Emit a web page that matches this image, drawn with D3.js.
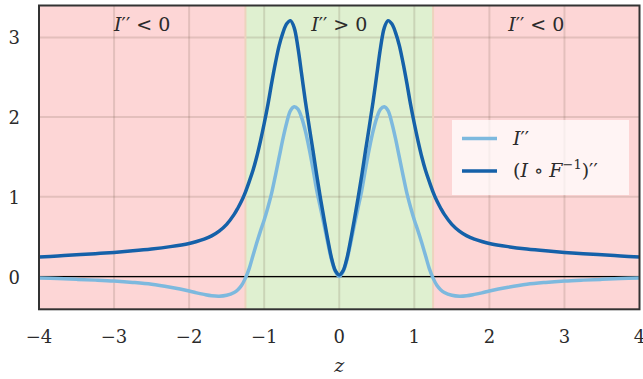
<!DOCTYPE html>
<html>
<head>
<meta charset="utf-8">
<script src="https://cdn.jsdelivr.net/npm/d3@7"></script>
<style>
  body { margin: 0; background: #fff; }
</style>
</head>
<body>
<div id="chart"></div>
<script>
const width = 643, height = 379;
const margin = { top: 5.5, right: 3.5, bottom: 69.7, left: 39 };
const serif = "'DejaVu Serif', 'Liberation Serif', serif";

// sample positions along z
const zValues = [-4, -3.75, -3.5, -3.25, -3, -2.75, -2.5, -2.25, -2, -1.9, -1.8, -1.7, -1.6, -1.5, -1.4, -1.35, -1.3,
  -1.25, -1.2, -1.15, -1.1, -1.05, -1, -0.95, -0.9, -0.85, -0.8, -0.75, -0.7, -0.65, -0.6, -0.55, -0.5,
  -0.45, -0.4, -0.35, -0.3, -0.25, -0.2, -0.15, -0.1, -0.05, 0,
  0.05, 0.1, 0.15, 0.2, 0.25, 0.3, 0.35, 0.4, 0.45, 0.5, 0.55, 0.6, 0.65, 0.7, 0.75, 0.8, 0.85, 0.9, 0.95,
  1, 1.05, 1.1, 1.15, 1.2, 1.25, 1.3, 1.35, 1.4, 1.5, 1.6, 1.7, 1.8, 1.9, 2, 2.25, 2.5, 2.75, 3, 3.25, 3.5, 3.75, 4];

// I''
const iSecond = [-0.017, -0.025, -0.035, -0.045, -0.057, -0.074, -0.097, -0.135, -0.182, -0.205, -0.224, -0.24, -0.246, -0.235, -0.2, -0.165, -0.11,
  -0.02, 0.10, 0.26, 0.42, 0.57, 0.71, 0.87, 1.05, 1.27, 1.50, 1.73, 1.93, 2.08, 2.13, 2.10, 1.99,
  1.82, 1.60, 1.35, 1.08, 0.86, 0.64, 0.41, 0.20, 0.06, 0.0,
  0.06, 0.20, 0.41, 0.64, 0.86, 1.08, 1.35, 1.60, 1.82, 1.99, 2.10, 2.13, 2.08, 1.93, 1.73, 1.50, 1.27, 1.05, 0.87,
  0.71, 0.57, 0.42, 0.26, 0.10, -0.02, -0.11, -0.165, -0.2, -0.235, -0.246, -0.24, -0.224, -0.205, -0.182, -0.135, -0.097, -0.074, -0.057, -0.045, -0.035, -0.025, -0.017];

// (I o F^-1)''
const composedSecond = [0.244, 0.258, 0.272, 0.287, 0.303, 0.322, 0.345, 0.375, 0.415, 0.44, 0.47, 0.51, 0.57, 0.655, 0.78, 0.86, 0.95,
  1.06, 1.19, 1.33, 1.50, 1.70, 1.92, 2.16, 2.43, 2.68, 2.90, 3.06, 3.17, 3.21, 3.12, 2.87, 2.53,
  2.19, 1.88, 1.58, 1.27, 0.98, 0.71, 0.45, 0.22, 0.07, 0.02,
  0.07, 0.22, 0.45, 0.71, 0.98, 1.27, 1.58, 1.88, 2.19, 2.53, 2.87, 3.12, 3.21, 3.17, 3.06, 2.90, 2.68, 2.43, 2.16,
  1.92, 1.70, 1.50, 1.33, 1.19, 1.06, 0.95, 0.86, 0.78, 0.655, 0.57, 0.51, 0.47, 0.44, 0.415, 0.375, 0.345, 0.322, 0.303, 0.287, 0.272, 0.258, 0.244];

// shaded regions: sign of I''
const regions = [
  { from: -4, to: -1.25, sign: "neg" },
  { from: -1.25, to: 1.25, sign: "pos" },
  { from: 1.25, to: 4, sign: "neg" }
];
const regionLabels = ["< 0", "> 0", "< 0"];

const xTicks = [-4, -3, -2, -1, 0, 1, 2, 3, 4];
const yTicks = [0, 1, 2, 3];

const lightBlue = "#7db9de", darkBlue = "#1561a9";

const svg = d3.select("#chart").append("svg")
  .attr("width", width)
  .attr("height", height)
  .attr("font-family", serif)
  .style("font-family", serif);

const innerWidth = width - margin.left - margin.right;
const innerHeight = height - margin.top - margin.bottom;

const x = d3.scaleLinear().domain([-4, 4]).range([0, innerWidth]);
const y = d3.scaleLinear().domain([-0.411, 3.4]).range([innerHeight, 0]);

const g = svg.append("g").attr("transform", `translate(${margin.left},${margin.top})`);

g.append("clipPath").attr("id", "clip")
  .append("rect").attr("width", innerWidth).attr("height", innerHeight);

// backgrounds
g.selectAll("rect.region")
  .data(regions)
  .join("rect")
  .attr("class", "region")
  .attr("x", d => x(d.from))
  .attr("y", 0)
  .attr("width", d => x(d.to) - x(d.from))
  .attr("height", innerHeight)
  .attr("fill", d => d.sign === "neg" ? "#fdd6d6" : "#dff0d0");

// grid
g.selectAll("line.gx")
  .data(xTicks.slice(1, -1))
  .join("line")
  .attr("x1", d => x(d)).attr("x2", d => x(d))
  .attr("y1", 0).attr("y2", innerHeight)
  .attr("stroke", "#6e5a4a").attr("stroke-opacity", 0.18).attr("stroke-width", 2);

g.selectAll("line.gy")
  .data(yTicks)
  .join("line")
  .attr("x1", 0).attr("x2", innerWidth)
  .attr("y1", d => y(d)).attr("y2", d => y(d))
  .attr("stroke", "#6e5a4a").attr("stroke-opacity", 0.18).attr("stroke-width", 2);

// region borders
g.selectAll("line.border")
  .data([-1.25, 1.25])
  .join("line")
  .attr("x1", d => x(d)).attr("x2", d => x(d))
  .attr("y1", 0).attr("y2", innerHeight)
  .attr("stroke", "#edd3bd").attr("stroke-width", 2);

// zero line
g.append("line")
  .attr("x1", 0).attr("x2", innerWidth)
  .attr("y1", y(0)).attr("y2", y(0))
  .attr("stroke", "#000").attr("stroke-width", 1.2);

// region labels
const labelG = g.selectAll("text.rl")
  .data(regions)
  .join("text")
  .attr("x", d => x((d.from + d.to) / 2))
  .attr("y", 25.5)
  .attr("text-anchor", "middle")
  .attr("fill", "#2b2b2b")
  .attr("font-size", "19px");
labelG.append("tspan").attr("font-style", "italic").text("I");
labelG.append("tspan").text((d, i) => "\u2032\u2032 " + regionLabels[i]);

// curves
const line = d3.line()
  .x((d, i) => x(zValues[i]))
  .y(d => y(d))
  .curve(d3.curveCatmullRom.alpha(0.5));

const curves = g.append("g").attr("clip-path", "url(#clip)");
curves.append("path")
  .datum(iSecond)
  .attr("fill", "none")
  .attr("stroke", lightBlue)
  .attr("stroke-width", 3.5)
  .attr("stroke-linejoin", "round")
  .attr("d", line);
curves.append("path")
  .datum(composedSecond)
  .attr("fill", "none")
  .attr("stroke", darkBlue)
  .attr("stroke-width", 3.5)
  .attr("stroke-linejoin", "round")
  .attr("d", line);

// frame
g.append("rect")
  .attr("width", innerWidth).attr("height", innerHeight)
  .attr("fill", "none").attr("stroke", "#333").attr("stroke-width", 2);

// tick labels
g.selectAll("text.xt")
  .data(xTicks)
  .join("text")
  .attr("x", d => x(d))
  .attr("y", innerHeight + 34)
  .attr("text-anchor", "middle")
  .attr("fill", "#2b2b2b")
  .attr("font-size", "18px")
  .text(d => d < 0 ? "\u2212" + Math.abs(d) : d);

g.selectAll("text.yt")
  .data(yTicks)
  .join("text")
  .attr("x", -19)
  .attr("y", d => y(d) + 7)
  .attr("text-anchor", "end")
  .attr("fill", "#2b2b2b")
  .attr("font-size", "18px")
  .text(d => d);

svg.append("text")
  .attr("x", margin.left + x(0))
  .attr("y", 372)
  .attr("text-anchor", "middle")
  .attr("fill", "#2b2b2b")
  .attr("font-size", "19px")
  .attr("font-style", "italic")
  .text("z");

// legend
const legend = svg.append("g").attr("transform", "translate(452,120)");
legend.append("rect")
  .attr("width", 177).attr("height", 75)
  .attr("fill", "#fff").attr("fill-opacity", 0.72);

const entries = [
  { color: lightBlue, y: 18.5 },
  { color: darkBlue, y: 51 }
];
legend.selectAll("line.lg")
  .data(entries)
  .join("line")
  .attr("x1", 10).attr("x2", 45)
  .attr("y1", d => d.y).attr("y2", d => d.y)
  .attr("stroke", d => d.color).attr("stroke-width", 3.5);

const t1 = legend.append("text").attr("x", 61).attr("y", 25)
  .attr("fill", "#2b2b2b").attr("font-size", "19px");
t1.append("tspan").attr("font-style", "italic").text("I");
t1.append("tspan").text("\u2032\u2032");

const t2 = legend.append("text").attr("x", 61).attr("y", 57)
  .attr("fill", "#2b2b2b").attr("font-size", "19px");
t2.append("tspan").text("(");
t2.append("tspan").attr("font-style", "italic").text("I");
t2.append("tspan").text(" \u2218 ");
t2.append("tspan").attr("font-style", "italic").text("F");
t2.append("tspan").attr("font-size", "13px").attr("dy", -8).text("\u22121");
t2.append("tspan").attr("dy", 8).text(")\u2032\u2032");
</script>
</body>
</html>
